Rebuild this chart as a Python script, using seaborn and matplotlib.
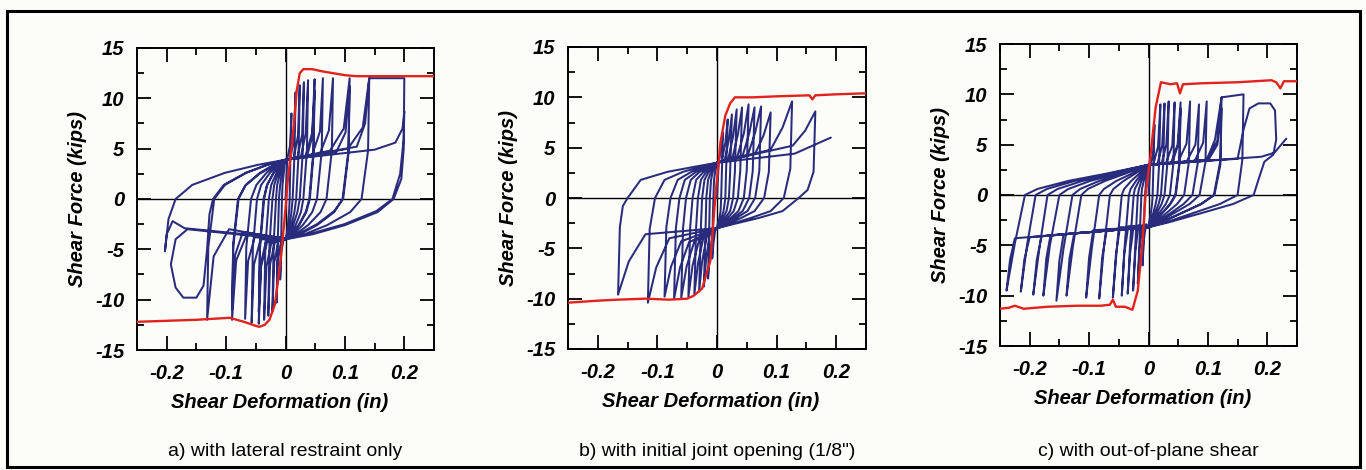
import numpy as np
import pandas as pd
import matplotlib
matplotlib.use("Agg")
import matplotlib.pyplot as plt
from matplotlib.patches import Rectangle
from matplotlib.ticker import FixedLocator, FixedFormatter, MultipleLocator
import seaborn as sns

# ------------------------------------------------------------------
# Cyclic shear tests: shear deformation (in) vs shear force (kips)
# Each trace is the continuous load path; the envelope is the
# monotonic response drawn in red.
# ------------------------------------------------------------------

# a) with lateral restraint only
a_trace = [
    (0.000, 0.0),
    (0.003, 4.0), (0.008, 5.4), (0.010, 8.5), (0.008, 3.4), (0.007, 0.0), (0.006, -1.3), (0.004, -2.6), (0.002, -3.5), (0.000, -4.0),
    (-0.003, -4.0), (-0.007, -5.2), (-0.009, -8.0), (-0.007, -3.2), (-0.006, 0.0), (-0.005, 1.4), (-0.003, 2.6), (-0.0015, 3.4), (0.000, 3.9),
    (0.008, 4.0), (0.014, 6.0), (0.017, 10.6), (0.015, 4.2), (0.012, 0.0), (0.010, -1.3), (0.007, -2.6), (0.003, -3.5), (0.000, -4.0),
    (-0.007, -4.1), (-0.013, -6.0), (-0.015, -10.3), (-0.013, -4.1), (-0.011, 0.0), (-0.009, 1.4), (-0.006, 2.6), (-0.003, 3.4), (0.000, 3.9),
    (0.014, 4.1), (0.021, 6.3), (0.024, 11.3), (0.022, 4.5), (0.018, 0.0), (0.015, -1.3), (0.010, -2.6), (0.005, -3.5), (0.000, -4.0),
    (-0.012, -4.2), (-0.019, -6.3), (-0.022, -11.2), (-0.020, -4.5), (-0.016, 0.0), (-0.014, 1.4), (-0.009, 2.6), (-0.004, 3.4), (0.000, 3.9),
    (0.020, 4.1), (0.028, 6.4), (0.031, 11.6), (0.029, 4.6), (0.024, 0.0), (0.020, -1.3), (0.013, -2.6), (0.006, -3.5), (0.000, -4.0),
    (-0.018, -4.3), (-0.026, -6.5), (-0.029, -11.6), (-0.027, -4.6), (-0.022, 0.0), (-0.019, 1.4), (-0.012, 2.6), (-0.006, 3.4), (0.000, 3.9),
    (0.026, 4.2), (0.034, 6.5), (0.038, 11.8), (0.036, 4.7), (0.030, 0.0), (0.026, -1.3), (0.017, -2.6), (0.008, -3.5), (0.000, -4.0),
    (-0.024, -4.4), (-0.032, -6.7), (-0.036, -12.0), (-0.034, -4.8), (-0.028, 0.0), (-0.024, 1.4), (-0.015, 2.6), (-0.007, 3.4), (0.000, 3.9),
    (0.034, 4.3), (0.045, 6.6), (0.049, 11.9), (0.047, 4.8), (0.040, 0.0), (0.034, -1.3), (0.022, -2.6), (0.010, -3.5), (0.000, -4.0),
    (-0.031, -4.3), (-0.041, -6.7), (-0.045, -12.4), (-0.043, -5.0), (-0.036, 0.0), (-0.031, 1.4), (-0.020, 2.6), (-0.009, 3.4), (0.000, 3.9),
    (0.036, 4.2), (0.045, 6.2), (0.049, 10.8), (0.047, 4.3), (0.041, 0.0), (0.035, -1.3), (0.023, -2.6), (0.010, -3.5), (0.000, -4.0),
    (-0.033, -4.2), (-0.041, -6.3), (-0.045, -11.2), (-0.043, -4.5), (-0.037, 0.0), (-0.031, 1.4), (-0.020, 2.6), (-0.009, 3.4), (0.000, 3.9),
    (0.045, 4.4), (0.058, 6.7), (0.063, 12.0), (0.061, 4.8), (0.053, 0.0), (0.045, -1.3), (0.029, -2.6), (0.013, -3.5), (0.000, -4.0),
    (-0.042, -4.0), (-0.053, -6.5), (-0.057, -12.3), (-0.055, -4.9), (-0.048, 0.0), (-0.041, 1.4), (-0.026, 2.6), (-0.012, 3.4), (0.000, 3.9),
    (0.058, 4.5), (0.073, 6.8), (0.080, 12.0), (0.078, 4.8), (0.069, 0.0), (0.059, -1.3), (0.038, -2.6), (0.017, -3.5), (0.000, -4.0),
    (-0.052, -3.8), (-0.063, -6.2), (-0.068, -11.9), (-0.066, -4.8), (-0.058, 0.0), (-0.049, 1.4), (-0.032, 2.6), (-0.015, 3.4), (0.000, 3.9),
    (0.075, 4.8), (0.098, 7.0), (0.108, 12.0), (0.106, 4.8), (0.096, 0.0), (0.082, -1.3), (0.053, -2.6), (0.024, -3.5), (0.000, -4.0),
    (-0.065, -3.5), (-0.083, -6.1), (-0.090, -12.0), (-0.088, -4.8), (-0.079, 0.0), (-0.067, 1.4), (-0.043, 2.6), (-0.020, 3.4), (0.000, 3.9),
    (0.085, 4.6), (0.101, 6.6), (0.108, 11.2), (0.106, 4.5), (0.097, 0.0), (0.082, -1.2), (0.053, -2.5), (0.024, -3.4), (0.000, -3.9),
    (-0.072, -3.3), (-0.085, -5.6), (-0.090, -11.0), (-0.088, -4.4), (-0.080, 0.0), (-0.068, 1.3), (-0.044, 2.5), (-0.020, 3.3), (0.000, 3.9),
    (0.105, 5.0), (0.130, 7.1), (0.141, 12.0), (0.139, 4.8), (0.128, 0.0), (0.109, -1.3), (0.070, -2.6), (0.032, -3.5), (0.000, -4.0),
    (-0.095, -3.0), (-0.121, -5.7), (-0.132, -12.0), (-0.130, -4.8), (-0.120, 0.0), (-0.102, 1.4), (-0.066, 2.6), (-0.030, 3.4), (0.000, 3.9),
    (0.120, 5.2), (0.134, 7.5), (0.141, 12.0), (0.200, 12.0), (0.199, 5.0), (0.195, 2.0), (0.182, 0.0), (0.155, -1.3), (0.100, -2.6), (0.046, -3.5), (0.000, -4.0),
    (-0.165, -3.0), (-0.185, -4.0), (-0.193, -6.5), (-0.185, -8.8), (-0.172, -9.8), (-0.150, -9.8), (-0.138, -8.6), (-0.132, -5.0), (-0.128, -1.5), (-0.122, 0.0),
    (-0.104, 1.4), (-0.067, 2.6), (-0.031, 3.4), (0.000, 3.9),
    (0.150, 4.9), (0.185, 5.6), (0.197, 7.0), (0.200, 8.7), (0.199, 6.0), (0.193, 2.5), (0.180, 0.0), (0.153, -1.2), (0.099, -2.5), (0.045, -3.4), (0.000, -3.9),
    (-0.170, -2.9), (-0.190, -2.2), (-0.200, -3.5), (-0.203, -5.2), (-0.197, -2.0), (-0.185, 0.0), (-0.157, 1.4), (-0.102, 2.6), (-0.046, 3.4), (0.000, 3.9),
]
a_envelope = [
    (-0.250, -12.2), (-0.200, -12.1), (-0.150, -12.0), (-0.094, -11.8), (-0.070, -12.2), (-0.050, -12.6),
    (-0.044, -12.7), (-0.035, -12.5), (-0.027, -12.0), (-0.018, -10.5), (-0.010, -7.0), (-0.005, -4.1),
    (0.000, -1.0), (0.004, 2.0), (0.010, 4.9), (0.015, 8.0), (0.019, 10.8), (0.024, 12.5), (0.030, 12.9),
    (0.045, 12.9), (0.060, 12.7), (0.080, 12.5), (0.100, 12.3), (0.120, 12.2), (0.200, 12.2), (0.250, 12.2),
]

# b) with initial joint opening (1/8")
b_trace = [
    (0.000, 0.0),
    (0.003, 3.6), (0.007, 4.9), (0.010, 6.5), (0.008, 2.0), (0.007, 0.0), (0.006, -1.3), (0.004, -2.0), (0.001, -2.6), (0.000, -3.0),
    (-0.003, -3.2), (-0.006, -4.5), (-0.008, -6.0), (-0.007, -1.8), (-0.006, 0.0), (-0.005, 1.8), (-0.003, 2.6), (-0.0015, 3.1), (0.000, 3.5),
    (0.008, 3.7), (0.014, 5.5), (0.018, 7.8), (0.015, 2.3), (0.014, 0.0), (0.011, -1.3), (0.007, -2.0), (0.003, -2.6), (0.000, -3.0),
    (-0.007, -3.4), (-0.012, -5.5), (-0.015, -8.0), (-0.013, -2.4), (-0.012, 0.0), (-0.010, 1.8), (-0.007, 2.6), (-0.003, 3.1), (0.000, 3.5),
    (0.013, 3.8), (0.020, 5.8), (0.025, 8.3), (0.022, 2.5), (0.020, 0.0), (0.016, -1.3), (0.010, -2.0), (0.004, -2.6), (0.000, -3.0),
    (-0.012, -3.6), (-0.018, -5.9), (-0.022, -8.8), (-0.019, -2.6), (-0.018, 0.0), (-0.015, 1.8), (-0.010, 2.6), (-0.0045, 3.1), (0.000, 3.5),
    (0.019, 3.9), (0.027, 6.1), (0.033, 8.8), (0.030, 2.6), (0.027, 0.0), (0.022, -1.3), (0.0135, -2.0), (0.005, -2.6), (0.000, -3.0),
    (-0.017, -3.8), (-0.025, -6.3), (-0.030, -9.3), (-0.027, -2.8), (-0.025, 0.0), (-0.021, 1.8), (-0.014, 2.6), (-0.006, 3.1), (0.000, 3.5),
    (0.026, 4.0), (0.035, 6.3), (0.042, 9.0), (0.039, 2.7), (0.035, 0.0), (0.028, -1.3), (0.0175, -2.0), (0.007, -2.6), (0.000, -3.0),
    (-0.023, -4.0), (-0.032, -6.5), (-0.038, -9.6), (-0.035, -2.9), (-0.032, 0.0), (-0.027, 1.8), (-0.018, 2.6), (-0.008, 3.1), (0.000, 3.5),
    (0.034, 4.1), (0.045, 6.4), (0.053, 9.3), (0.050, 2.8), (0.045, 0.0), (0.036, -1.3), (0.0225, -2.0), (0.009, -2.6), (0.000, -3.0),
    (-0.030, -4.2), (-0.041, -6.7), (-0.048, -9.8), (-0.045, -2.9), (-0.041, 0.0), (-0.035, 1.8), (-0.0225, 2.6), (-0.010, 3.1), (0.000, 3.5),
    (0.043, 4.2), (0.054, 6.4), (0.063, 9.0), (0.060, 2.7), (0.054, 0.0), (0.043, -1.3), (0.027, -2.0), (0.011, -2.6), (0.000, -3.0),
    (-0.038, -4.3), (-0.051, -6.8), (-0.060, -9.9), (-0.057, -3.0), (-0.052, 0.0), (-0.044, 1.8), (-0.029, 2.6), (-0.013, 3.1), (0.000, 3.5),
    (0.052, 4.3), (0.064, 6.5), (0.074, 9.1), (0.071, 2.7), (0.064, 0.0), (0.051, -1.3), (0.032, -2.0), (0.013, -2.6), (0.000, -3.0),
    (-0.047, -4.4), (-0.062, -6.9), (-0.072, -10.0), (-0.069, -3.0), (-0.063, 0.0), (-0.054, 1.8), (-0.035, 2.6), (-0.016, 3.1), (0.000, 3.5),
    (0.064, 4.4), (0.078, 6.2), (0.090, 8.5), (0.087, 2.6), (0.079, 0.0), (0.063, -1.3), (0.040, -2.0), (0.016, -2.6), (0.000, -3.0),
    (-0.060, -4.3), (-0.077, -6.8), (-0.088, -9.8), (-0.085, -2.9), (-0.078, 0.0), (-0.066, 1.8), (-0.043, 2.6), (-0.020, 3.1), (0.000, 3.5),
    (0.090, 4.8), (0.110, 7.0), (0.126, 9.6), (0.123, 2.9), (0.112, 0.0), (0.090, -1.3), (0.056, -2.0), (0.022, -2.6), (0.000, -3.0),
    (-0.080, -4.0), (-0.102, -6.9), (-0.116, -10.4), (-0.113, -3.1), (-0.104, 0.0), (-0.088, 1.8), (-0.057, 2.6), (-0.026, 3.1), (0.000, 3.5),
    (0.127, 5.2), (0.148, 6.7), (0.165, 8.6), (0.162, 2.6), (0.152, 0.8), (0.137, 0.0), (0.110, -1.3), (0.069, -2.0), (0.027, -2.6), (0.000, -3.0),
    (-0.120, -3.6), (-0.148, -6.3), (-0.166, -9.6), (-0.163, -2.9), (-0.158, -0.8), (-0.150, 0.0), (-0.128, 1.8), (-0.083, 2.6), (-0.038, 3.1), (0.000, 3.5),
    (0.130, 4.4), (0.191, 6.0),
]
b_envelope = [
    (-0.250, -10.4), (-0.200, -10.2), (-0.167, -10.1), (-0.120, -10.0), (-0.080, -10.1), (-0.050, -10.0),
    (-0.039, -9.7), (-0.025, -9.0), (-0.011, -6.2), (-0.003, 0.0), (0.006, 5.6), (0.014, 8.2), (0.022, 9.4),
    (0.030, 10.0), (0.060, 10.0), (0.100, 10.1), (0.155, 10.2), (0.160, 9.8), (0.165, 10.2), (0.200, 10.3),
    (0.250, 10.4),
]

# c) with out-of-plane shear
c_trace = [
    (0.000, 0.0),
    (0.003, 3.0), (0.008, 4.2), (0.010, 7.0), (0.008, 2.5), (0.007, 0.0), (0.006, -0.9), (0.004, -1.8), (0.001, -2.7), (0.000, -3.2),
    (-0.004, -2.9), (-0.008, -4.5), (-0.010, -7.0), (-0.008, -3.5), (-0.006, 0.0), (-0.005, 0.6), (-0.004, 1.4), (-0.002, 2.1), (0.000, 3.0),
    (0.008, 3.0), (0.016, 4.8), (0.020, 9.0), (0.018, 3.2), (0.015, 0.0), (0.012, -0.9), (0.008, -1.8), (0.003, -2.7), (0.000, -3.2),
    (-0.010, -3.0), (-0.015, -5.3), (-0.018, -8.8), (-0.015, -4.4), (-0.012, 0.0), (-0.011, 0.6), (-0.008, 1.4), (-0.004, 2.1), (0.000, 3.0),
    (0.015, 3.1), (0.023, 4.9), (0.027, 9.1), (0.025, 3.2), (0.021, 0.0), (0.017, -0.9), (0.011, -1.8), (0.004, -2.7), (0.000, -3.2),
    (-0.017, -3.0), (-0.022, -5.6), (-0.026, -9.5), (-0.022, -4.8), (-0.018, 0.0), (-0.016, 0.6), (-0.012, 1.4), (-0.006, 2.1), (0.000, 3.0),
    (0.022, 3.1), (0.030, 5.0), (0.034, 9.3), (0.032, 3.3), (0.027, 0.0), (0.022, -0.9), (0.014, -1.8), (0.005, -2.7), (0.000, -3.2),
    (-0.025, -3.1), (-0.031, -5.8), (-0.035, -9.8), (-0.031, -4.9), (-0.025, 0.0), (-0.023, 0.6), (-0.016, 1.4), (-0.009, 2.1), (0.000, 3.0),
    (0.029, 3.1), (0.040, 4.9), (0.044, 9.2), (0.042, 3.2), (0.036, 0.0), (0.029, -0.9), (0.018, -1.8), (0.007, -2.7), (0.000, -3.2),
    (-0.034, -3.1), (-0.041, -5.9), (-0.045, -10.0), (-0.040, -5.0), (-0.033, 0.0), (-0.030, 0.6), (-0.021, 1.4), (-0.012, 2.1), (0.000, 3.0),
    (0.038, 3.2), (0.049, 5.0), (0.054, 9.2), (0.052, 3.2), (0.045, 0.0), (0.036, -0.9), (0.023, -1.8), (0.009, -2.7), (0.000, -3.2),
    (-0.048, -3.2), (-0.055, -6.0), (-0.060, -10.2), (-0.053, -5.1), (-0.045, 0.0), (-0.041, 0.6), (-0.029, 1.4), (-0.016, 2.1), (0.000, 3.0),
    (0.050, 3.3), (0.064, 5.1), (0.070, 9.3), (0.068, 3.3), (0.060, 0.0), (0.048, -0.9), (0.030, -1.8), (0.012, -2.7), (0.000, -3.2),
    (-0.070, -3.4), (-0.078, -6.2), (-0.083, -10.3), (-0.075, -5.2), (-0.065, 0.0), (-0.059, 0.6), (-0.042, 1.4), (-0.023, 2.1), (0.000, 3.0),
    (0.064, 3.3), (0.079, 5.0), (0.085, 9.0), (0.083, 3.2), (0.074, 0.0), (0.059, -0.9), (0.037, -1.8), (0.015, -2.7), (0.000, -3.2),
    (-0.093, -3.5), (-0.100, -6.2), (-0.105, -10.2), (-0.095, -5.1), (-0.083, 0.0), (-0.075, 0.6), (-0.054, 1.4), (-0.029, 2.1), (0.000, 3.0),
    (0.078, 3.4), (0.092, 5.2), (0.098, 9.3), (0.096, 3.3), (0.086, 0.0), (0.069, -0.9), (0.043, -1.8), (0.017, -2.7), (0.000, -3.2),
    (-0.125, -3.8), (-0.133, -6.3), (-0.138, -10.0), (-0.127, -5.0), (-0.113, 0.0), (-0.102, 0.6), (-0.073, 1.4), (-0.040, 2.1), (0.000, 3.0),
    (0.098, 3.5), (0.116, 5.4), (0.123, 9.7), (0.121, 3.4), (0.110, 0.0), (0.088, -0.9), (0.055, -1.8), (0.022, -2.7), (0.000, -3.2),
    (-0.143, -3.9), (-0.150, -6.5), (-0.155, -10.5), (-0.143, -5.3), (-0.128, 0.0), (-0.115, 0.6), (-0.083, 1.4), (-0.045, 2.1), (0.000, 3.0),
    (0.098, 3.5), (0.112, 5.5), (0.123, 9.7), (0.135, 9.8), (0.160, 10.0), (0.158, 3.5), (0.150, 0.0), (0.120, -0.9), (0.075, -1.8), (0.030, -2.7), (0.000, -3.2),
    (-0.180, -4.1), (-0.188, -6.4), (-0.194, -9.9), (-0.183, -5.0), (-0.170, 0.0), (-0.153, 0.6), (-0.111, 1.4), (-0.060, 2.1), (0.000, 3.0),
    (0.150, 3.6), (0.160, 6.5), (0.170, 8.6), (0.185, 9.1), (0.205, 9.1), (0.213, 8.4), (0.215, 5.5), (0.210, 4.0), (0.195, 3.3),
    (0.185, 1.5), (0.177, 0.0), (0.142, -0.9), (0.089, -1.8), (0.035, -2.7), (0.000, -3.2),
    (-0.200, -4.2), (-0.209, -6.4), (-0.215, -9.6), (-0.204, -4.8), (-0.190, 0.0), (-0.171, 0.6), (-0.124, 1.4), (-0.067, 2.1), (0.000, 3.0),
    (0.100, 3.4), (0.116, 5.0), (0.123, 8.6), (0.121, 3.0), (0.111, 0.0), (0.089, -0.9), (0.056, -1.8), (0.022, -2.7), (0.000, -3.2),
    (-0.225, -4.3), (-0.233, -6.4), (-0.239, -9.5), (-0.225, -4.8), (-0.208, 0.0), (-0.187, 0.6), (-0.135, 1.4), (-0.073, 2.1), (0.000, 3.0),
    (0.040, 3.2), (0.050, 5.0), (0.054, 8.6), (0.052, 3.0), (0.046, 0.0), (0.037, -0.9), (0.023, -1.8), (0.009, -2.7), (0.000, -3.2),
    (-0.165, -4.0), (-0.172, -6.3), (-0.177, -10.0), (-0.166, -5.0), (-0.150, 0.0), (-0.135, 0.6), (-0.098, 1.4), (-0.053, 2.1), (0.000, 3.0),
    (0.190, 3.8), (0.212, 4.2), (0.232, 5.6),
]
c_envelope = [
    (-0.250, -11.3), (-0.235, -11.2), (-0.225, -11.0), (-0.210, -11.3), (-0.170, -11.1), (-0.120, -11.0),
    (-0.080, -11.0), (-0.065, -10.9), (-0.060, -10.4), (-0.055, -11.1), (-0.040, -11.1), (-0.027, -11.4),
    (-0.018, -9.5), (-0.010, -4.6), (-0.005, 0.0), (0.003, 3.7), (0.012, 8.7), (0.021, 11.2), (0.037, 11.0),
    (0.048, 11.1), (0.053, 10.1), (0.058, 11.0), (0.090, 11.1), (0.150, 11.2), (0.207, 11.4), (0.215, 11.2),
    (0.222, 10.6), (0.228, 11.3), (0.250, 11.3),
]

captions = [
    "a) with lateral restraint only",
    "b) with initial joint opening (1/8\")",
    "c) with out-of-plane shear",
]
x_ticks = [-0.2, -0.1, 0.0, 0.1, 0.2]
x_tick_labels = ["-0.2", "-0.1", "0", "0.1", "0.2"]
y_ticks = [-15, -10, -5, 0, 5, 10, 15]
y_tick_labels = ["-15", "-10", "-5", "0", "5", "10", "15"]
x_label = "Shear Deformation (in)"
y_label = "Shear Force (kips)"

# ------------------------------------------------------------------
sns.set_theme(style="ticks")
plt.rcParams["font.family"] = ["Liberation Sans", "DejaVu Sans"]
for key in ("text.color", "axes.labelcolor", "xtick.color", "ytick.color",
            "xtick.labelcolor", "ytick.labelcolor", "axes.edgecolor"):
    plt.rcParams[key] = "black"

PAPER = "#fcfcf9"
LOOP = "#292c7c"
ENV = "#e2231d"

W, H = 1366, 470
fig = plt.figure(figsize=(W / 100, H / 100), dpi=100, facecolor=PAPER)


def frac_box(left, top, right, bottom):
    return [left / W, 1 - bottom / H, (right - left) / W, (bottom - top) / H]


panel_boxes = [
    frac_box(137, 48, 434, 350),
    frac_box(568, 47, 866, 349),
    frac_box(1000, 44, 1297, 346),
]
traces = [a_trace, b_trace, c_trace]
envelopes = [a_envelope, b_envelope, c_envelope]

label_font = dict(fontsize=14.5, fontweight="bold", fontstyle="italic", color="black")

for box, trace, env, cap in zip(panel_boxes, traces, envelopes, captions):
    ax = fig.add_axes(box)
    ax.set_facecolor(PAPER)

    loop_df = pd.DataFrame(trace, columns=["disp", "force"])
    env_df = pd.DataFrame(env, columns=["disp", "force"])

    ax.axhline(0, color="black", lw=1.0, zorder=1)
    ax.axvline(0, color="black", lw=1.0, zorder=1)

    sns.lineplot(data=loop_df, x="disp", y="force", sort=False, estimator=None,
                 color=LOOP, lw=1.45, ax=ax, zorder=2)
    sns.lineplot(data=env_df, x="disp", y="force", sort=False, estimator=None,
                 color=ENV, lw=1.7, ax=ax, zorder=3)

    ax.set_xlim(-0.25, 0.25)
    ax.set_ylim(-15, 15)
    ax.xaxis.set_major_locator(FixedLocator(x_ticks))
    ax.xaxis.set_major_formatter(FixedFormatter(x_tick_labels))
    ax.yaxis.set_major_locator(FixedLocator(y_ticks))
    ax.yaxis.set_major_formatter(FixedFormatter(y_tick_labels))
    ax.xaxis.set_minor_locator(MultipleLocator(0.05))
    ax.yaxis.set_minor_locator(MultipleLocator(2.5))

    ax.tick_params(which="both", direction="in", top=True, right=True,
                   color="black", labelcolor="black", width=1.3)
    ax.tick_params(which="major", length=10)
    ax.tick_params(which="minor", length=5)
    ax.tick_params(axis="x", which="major", pad=10)
    ax.tick_params(axis="y", which="major", pad=9)
    for lab in ax.get_xticklabels() + ax.get_yticklabels():
        lab.set_fontsize(label_font["fontsize"])
        lab.set_fontweight("bold")
        lab.set_fontstyle("italic")
        lab.set_color("black")

    for sp in ax.spines.values():
        sp.set_visible(True)
        sp.set_color("black")
        sp.set_linewidth(1.4)

    ax.set_xlabel(x_label, va="center", **label_font)
    ax.set_ylabel(y_label, va="center", **label_font)
    ax.xaxis.set_label_coords(0.48, -0.175)
    ax.yaxis.set_label_coords(-0.199, 0.5)

    pos = ax.get_position()
    fig.text(pos.x0 + pos.width / 2, 1 - 452 / H, cap, ha="center", va="center",
             fontsize=14, color="black")

# outer frame
fig.add_artist(Rectangle((7 / W, 1 - 467 / H), (1360 - 7) / W, (467 - 11) / H,
                         transform=fig.transFigure, fill=False, lw=2.2,
                         edgecolor="black"))

fig.savefig("out.png", dpi=100, facecolor=PAPER)
